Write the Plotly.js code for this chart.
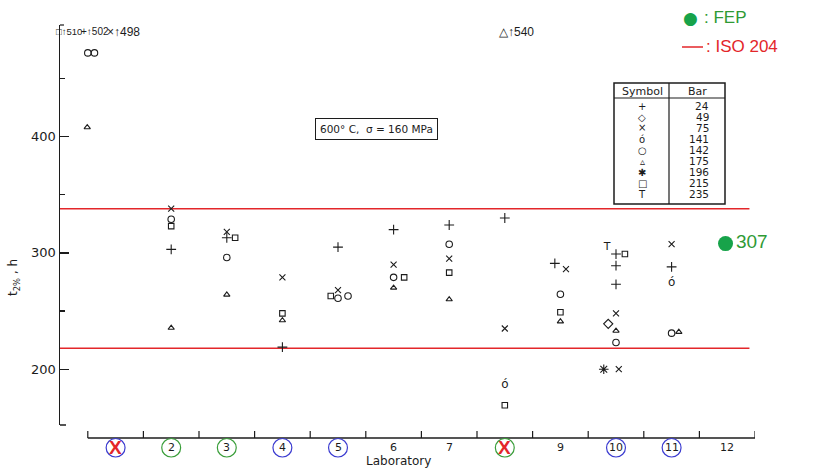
<!DOCTYPE html>
<html>
<head>
<meta charset="utf-8">
<script src="https://cdn.plot.ly/plotly-3.0.1.min.js"></script>
<style>
  html, body { margin: 0; padding: 0; background: #fff; }
  #chart { width: 816px; height: 470px; }
</style>
</head>
<body>
<div id="chart"></div>
<script>
// creep rupture round robin, t 2% (h) per laboratory, 600 C / 160 MPa

// --- data (x = laboratory position, y = hours) ---
const labNumbers = [1, 2, 3, 4, 5, 6, 7, 8, 9, 10, 11, 12];
const labCircle  = ['blue', 'green', 'green', 'blue', 'blue', '', '', 'green', '', 'blue', 'blue', ''];
const labCrossed = [true, false, false, false, false, false, false, true, false, false, false, false];

const bar24X  = [2.0, 3.0, 4.0, 5.0, 6.0, 7.0, 8.0, 8.9, 10.0, 10.0, 10.0, 11.0];
const bar24Y  = [303, 313, 219, 305, 320, 324, 330, 291, 299, 289, 273, 288];

const bar49X  = [9.86];
const bar49Y  = [239];

const bar75X  = [2.0, 3.0, 4.0, 5.0, 6.0, 7.0, 8.0, 9.1, 10.0, 10.05, 11.0];
const bar75Y  = [338, 318, 279, 268, 290, 295, 235, 286, 248, 200, 307.5];

const bar141X = [8.0, 11.0];
const bar141Y = [186, 274];

const bar142X = [0.5, 0.62, 2.0, 3.0, 5.0, 5.18, 6.0, 7.0, 9.0, 10.0, 11.0];
const bar142Y = [472, 472, 329, 296, 261, 263, 279, 307.5, 264.5, 223, 231];

const bar175X = [0.49, 2.0, 3.0, 4.0, 6.0, 7.0, 9.0, 10.0, 11.13];
const bar175Y = [408, 235.5, 264, 242, 270, 260, 241, 233, 232];

const bar196X = [9.78];
const bar196Y = [200];

const bar215X = [2.0, 3.15, 4.0, 4.87, 6.19, 7.0, 8.0, 9.0, 10.16];
const bar215Y = [323, 313, 248, 263, 279, 283, 169, 249, 299];

const bar235X = [9.84];
const bar235Y = [305];

// points above the plotted range, only written as numbers at the top
const offScaleSym = ['□', '+', '×', '△'];
const offScaleVal = [510, 502, 498, 540];

// ISO 204 scatter band and FEP result
const isoLimits = [218, 338];
const fepX = [11.97];
const fepY = [308];
const fepLabel = ['307'];

// legend table
const tableSymbols = ['+', '◇', '×', 'ó', '○', '▵', '✱', '□', 'T'];
const tableBars    = ['24', '49', '75', '141', '142', '175', '196', '215', '235'];

// --- layout helpers (pixel -> paper) ---
const L = 60, T = 25, W = 695, H = 400;
const xp = px => (px - L) / W;
const yp = py => (T + H - py) / H;

const ink = '#1c1c1c';
const markFont = 'DejaVu Sans, sans-serif';
const greenText = '#2f9a35';
const red = '#e3262a';

function markerTrace(x, y, symbol, size) {
  return {
    x: x, y: y, type: 'scatter', mode: 'markers', hoverinfo: 'skip',
    marker: { symbol: symbol, size: size, color: ink, line: { color: ink, width: 1.1 } }
  };
}
function textTrace(x, y, glyph, size) {
  return {
    x: x, y: y, type: 'scatter', mode: 'text', hoverinfo: 'skip',
    text: x.map(() => glyph), textposition: 'middle center',
    textfont: { family: markFont, size: size, color: ink }
  };
}

const traces = [
  // ISO 204 lines
  ...isoLimits.map(v => ({
    x: [0, 12.4], y: [v, v], type: 'scatter', mode: 'lines', hoverinfo: 'skip',
    line: { color: red, width: 1.5 }
  })),
  markerTrace(bar24X, bar24Y, 'cross-thin-open', 7),
  markerTrace(bar49X, bar49Y, 'diamond-open', 7),
  markerTrace(bar75X, bar75Y, 'x-thin-open', 6),
  textTrace(bar141X, bar141Y, 'ó', 12),
  markerTrace(bar142X, bar142Y, 'circle-open', 6.5),
  markerTrace(bar175X, bar175Y, 'triangle-up-open', 5.5),
  markerTrace(bar196X, bar196Y, 'asterisk-open', 8),
  markerTrace(bar215X, bar215Y, 'square-open', 5.5),
  textTrace(bar235X, bar235Y, 'T', 11),
  {
    x: fepX, y: fepY, type: 'scatter', mode: 'markers+text', hoverinfo: 'skip',
    text: fepLabel, textposition: 'middle right',
    textfont: { family: 'Liberation Sans, Arial, sans-serif', size: 19, color: greenText },
    marker: { symbol: 'circle', size: 15, color: '#17a34a' },
    cliponaxis: false
  }
];

// --- shapes: x axis drawn by hand (it sits below the y axis end) ---
const shapes = [];
const axisY = yp(438);
shapes.push({ type: 'line', xref: 'x', yref: 'paper', x0: 0.5, x1: 12.5, y0: axisY, y1: axisY,
              line: { color: ink, width: 1.5 } });
for (let b = 0.5; b <= 12.5; b += 1) {
  shapes.push({ type: 'line', xref: 'x', yref: 'paper', x0: b, x1: b, y0: axisY, y1: yp(431),
                line: { color: ink, width: 1.2 } });
}
// y axis end caps
shapes.push({ type: 'line', xref: 'paper', yref: 'paper', x0: 0, x1: xp(66), y0: 0, y1: 0,
              line: { color: ink, width: 1.5 } });
shapes.push({ type: 'line', xref: 'paper', yref: 'paper', x0: 0, x1: xp(64), y0: 1, y1: 1,
              line: { color: ink, width: 1.2 } });

// circles round the laboratory numbers
const circleColor = { blue: '#3b3bd0', green: '#3a9e3a' };
labNumbers.forEach((n, i) => {
  if (!labCircle[i]) return;
  shapes.push({ type: 'circle', xref: 'x', yref: 'paper',
                x0: n - 0.17, x1: n + 0.17, y0: yp(457), y1: yp(438.5),
                line: { color: circleColor[labCircle[i]], width: 1.2 } });
});

// symbol table
shapes.push({ type: 'rect', xref: 'paper', yref: 'paper', x0: xp(614), x1: xp(725), y0: yp(83), y1: yp(204),
              line: { color: ink, width: 1.5 }, fillcolor: 'white', layer: 'below' });
shapes.push({ type: 'line', xref: 'paper', yref: 'paper', x0: xp(614), x1: xp(725), y0: yp(98), y1: yp(98),
              line: { color: ink, width: 1.2 } });
shapes.push({ type: 'line', xref: 'paper', yref: 'paper', x0: xp(669), x1: xp(669), y0: yp(83), y1: yp(204),
              line: { color: ink, width: 1.2 } });

// ISO 204 legend line
shapes.push({ type: 'line', xref: 'paper', yref: 'paper', x0: xp(682), x1: xp(703), y0: yp(47), y1: yp(47),
              line: { color: red, width: 1.5 } });

// --- annotations ---
const annotations = [];
function note(px, py, text, font, extra) {
  annotations.push(Object.assign({ xref: 'paper', yref: 'paper', x: xp(px), y: yp(py),
    xanchor: 'center', yanchor: 'middle', showarrow: false, text: text, font: font }, extra || {}));
}

const labFont = { family: markFont, size: 11, color: ink };
labNumbers.forEach((n, i) => {
  const px = L + n * W / 12.5;
  if (labCrossed[i]) {
    note(px, 447.5, '<b>X</b>', { family: 'Liberation Sans, sans-serif', size: 19, color: red });
  } else {
    note(px, 447, String(n), labFont);
  }
});
note(398, 461, 'Laboratory', { family: markFont, size: 12, color: ink });

// y title
note(14, 278, 't<sub>2%</sub> , h', { family: markFont, size: 12, color: ink }, { textangle: -90 });

// test condition box
note(376, 129, '600° C,  σ = 160 MPa', { family: markFont, size: 10.5, color: ink },
     { bordercolor: ink, borderwidth: 1, borderpad: 4, bgcolor: 'white' });

// off-scale values at the top of the axis
const offScaleLeftPx = [54, 79, 105, 497];
const offScaleSize = [9.5, 10, 12, 12];
offScaleSym.forEach((s, i) => {
  note(offScaleLeftPx[i], 32, s + '↑' + offScaleVal[i],
       { family: 'Liberation Sans, sans-serif', size: offScaleSize[i], color: ink }, { xanchor: 'left' });
});

// table text
note(642, 91, 'Symbol', { family: markFont, size: 11, color: ink });
note(697, 91, 'Bar', { family: markFont, size: 11, color: ink });
tableSymbols.forEach((s, i) => {
  const rowY = 106 + i * 11;
  note(642, rowY, s, { family: markFont, size: 10, color: ink });
  note(711, rowY, tableBars[i], { family: markFont, size: 10.5, color: ink }, { xanchor: 'right' });
});

// FEP / ISO legend
note(690, 18, '●', { family: markFont, size: 17, color: '#17a34a' });
note(702, 18, ': FEP', { family: 'Liberation Sans, Arial, sans-serif', size: 17, color: greenText }, { xanchor: 'left' });
note(704, 46, ': ISO 204', { family: 'Liberation Sans, Arial, sans-serif', size: 17, color: red }, { xanchor: 'left' });

const layout = {
  width: 816, height: 470,
  margin: { l: L, r: 816 - L - W, t: T, b: 470 - T - H },
  paper_bgcolor: 'white', plot_bgcolor: 'white',
  showlegend: false, hovermode: false,
  xaxis: { range: [0, 12.5], showline: false, showgrid: false, zeroline: false,
           showticklabels: false, ticks: '' },
  yaxis: { range: [152, 496], showline: true, linecolor: ink, linewidth: 1.5,
           showgrid: false, zeroline: false,
           tickvals: [200, 300, 400], ticks: 'inside', ticklen: 9, tickwidth: 1.2, tickcolor: ink,
           minor: { tick0: 150, dtick: 50, ticks: 'inside', ticklen: 5, tickwidth: 1.2, tickcolor: ink },
           tickfont: { family: markFont, size: 13, color: ink } },
  shapes: shapes,
  annotations: annotations
};

Plotly.newPlot('chart', traces, layout, { displayModeBar: false, staticPlot: true });
</script>
</body>
</html>
